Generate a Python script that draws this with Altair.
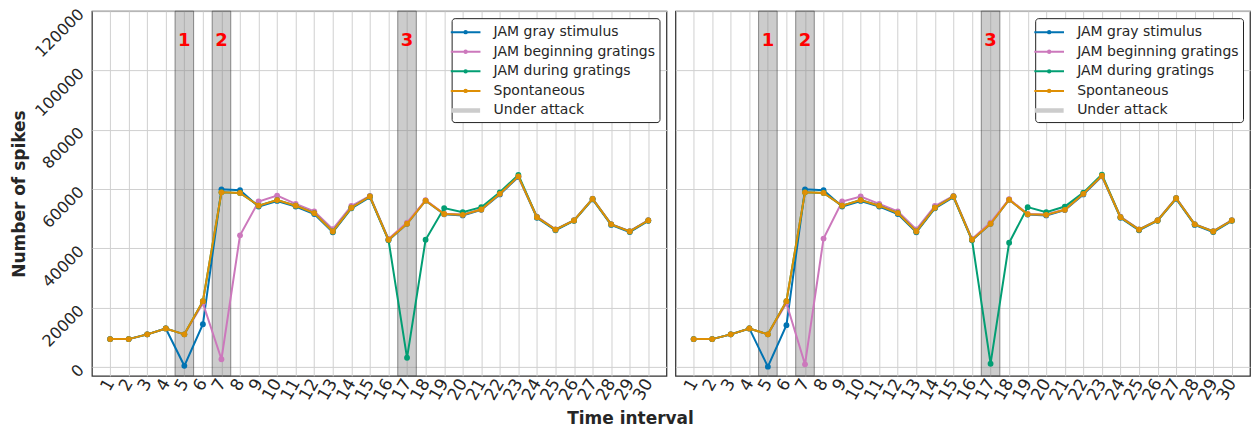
import altair as alt
import pandas as pd

intervals = list(range(1, 31))
series_names = ["JAM gray stimulus", "JAM beginning gratings", "JAM during gratings", "Spontaneous"]
series_colors = ["#0173b2", "#cc78bc", "#029e73", "#de8f05"]
attack_name = "Under attack"
attack_color = "#cccccc"

# left panel
left_gray = [9400, 9400, 11000, 13000, 400, 14400, 59900, 59600, 54100, 56000, 54100, 51600, 45400, 53500, 57300,
             42700, 48300, 56100, 51500, 51100, 53000, 58200, 64100, 50300, 46100, 49300, 56500, 47900, 45500, 49300]
left_begin = [9400, 9400, 11000, 13000, 11000, 21500, 2600, 44400, 55800, 57800, 55000, 52500, 46500, 54300, 57700,
              43200, 48700, 56300, 51700, 51400, 53200, 58500, 64300, 50700, 46400, 49500, 56800, 48200, 45800, 49500]
left_during = [9400, 9400, 11000, 13000, 11000, 22200, 58900, 58700, 54400, 56300, 54400, 51900, 45700, 53700, 57500,
               42900, 3100, 42900, 53600, 52200, 53900, 58900, 64800, 50500, 46300, 49400, 56700, 48100, 45700, 49400]
left_spont = [9400, 9400, 11000, 13000, 11000, 22200, 58900, 58700, 54400, 56300, 54400, 51900, 45700, 53700, 57500,
              42900, 48300, 56100, 51600, 51300, 53100, 58400, 64300, 50500, 46300, 49400, 56700, 48100, 45700, 49400]

# right panel
right_gray = [9400, 9400, 11000, 13000, 100, 14100, 59900, 59600, 54100, 56000, 54100, 51600, 45400, 53500, 57300,
              42700, 48300, 56400, 51400, 51100, 52900, 58200, 64300, 50300, 46100, 49300, 56700, 47900, 45500, 49300]
right_begin = [9400, 9400, 11000, 13000, 11000, 21500, 900, 43300, 55800, 57500, 55000, 52500, 46400, 54300, 57700,
               43200, 48700, 56600, 51600, 51400, 53100, 58500, 64500, 50700, 46400, 49500, 57000, 48200, 45800, 49500]
right_during = [9400, 9400, 11000, 13000, 11000, 22200, 58900, 58700, 54400, 56300, 54400, 51900, 45700, 53700, 57500,
                42900, 1100, 41900, 53900, 52200, 54100, 58800, 64900, 50500, 46300, 49400, 56900, 48100, 45700, 49400]
right_spont = [9400, 9400, 11000, 13000, 11000, 22200, 58900, 58700, 54400, 56300, 54400, 51900, 45700, 53700, 57500,
               42900, 48300, 56400, 51500, 51300, 53000, 58400, 64500, 50500, 46300, 49400, 56900, 48100, 45700, 49400]

attack_start = [4.5, 6.5, 16.5]
attack_end = [5.5, 7.5, 17.5]
attack_center = [5, 7, 17]
attack_labels = ["1", "2", "3"]
attack_label_y = 110000

y_ticks = [0, 20000, 40000, 60000, 80000, 100000, 120000]
y_domain = [-3000, 120000]
x_domain = [0.02, 30.98]

FONT = "DejaVu Sans"
TEXT = "#262626"
GRID = "#d0d0d0"
W, H = 575, 365

attack_df = pd.DataFrame({"start": attack_start, "end": attack_end,
                          "center": attack_center, "label": attack_labels})

# legend glyphs: line with a dot, and a thick bar for the shaded bands
LINE_PATH = "M-1.65,0L1.65,0M0.13,0A0.13,0.13,0,1,1,-0.13,0A0.13,0.13,0,1,1,0.13,0Z"
BAR_PATH = "M-1.5,-0.13L1.5,-0.13L1.5,0.13L-1.5,0.13Z"

legend = alt.Legend(
    title=None, orient="top-right", offset=7,
    labelFont=FONT, labelFontSize=14, labelColor=TEXT, labelLimit=400,
    fillColor="white", strokeColor="#222222", cornerRadius=3, padding=4,
    symbolSize=324, rowPadding=2.6, labelOffset=18,
    symbolStrokeWidth=2, symbolOpacity=1, symbolFillColor="transparent",
)

legend_domain = series_names + [attack_name]
color_scale = alt.Scale(domain=legend_domain, range=series_colors + [attack_color])
shape_scale = alt.Scale(domain=legend_domain, range=[LINE_PATH] * 4 + [BAR_PATH])
x_scale = alt.Scale(domain=x_domain, nice=False, zero=False)
y_scale = alt.Scale(domain=y_domain, nice=False, zero=False)


def make_panel(values, show_y):
    rows = []
    for name, vals in zip(series_names, values):
        for i, v in zip(intervals, vals):
            rows.append({"interval": i, "spikes": v, "series": name})
    df = pd.DataFrame(rows)

    xaxis = alt.Axis(values=intervals, labelAngle=300, labelAlign="right", labelBaseline="middle",
                     labelFontSize=17, labelFont=FONT, labelColor=TEXT, labelPadding=4,
                     labelOverlap=False, labelFlush=False, title=None, ticks=False, domain=False,
                     grid=True, gridColor=GRID, gridWidth=1)
    if show_y:
        yaxis = alt.Axis(values=y_ticks, labelAngle=315, labelAlign="right", labelBaseline="middle",
                         labelFontSize=16, labelFont=FONT, labelColor=TEXT, labelPadding=11,
                         labelOverlap=False, labelFlush=False, ticks=False, domain=False,
                         grid=True, gridColor=GRID, gridWidth=1, format="d",
                         title="Number of spikes", titleFont=FONT, titleFontSize=17, titleFontWeight="bold",
                         titleColor=TEXT, titleX=-72, titleY=H / 2, titleAngle=270, titleBaseline="middle",
                         titleAlign="center")
    else:
        yaxis = alt.Axis(values=y_ticks, labels=False, ticks=False, domain=False, title=None,
                         grid=True, gridColor=GRID, gridWidth=1)
    x = alt.X("interval:Q", scale=x_scale, axis=xaxis)
    y = alt.Y("spikes:Q", scale=y_scale, axis=yaxis)

    bands = alt.Chart(attack_df).mark_rect(
        fill="#808080", fillOpacity=0.4, stroke="#444444", strokeOpacity=0.6, strokeWidth=1
    ).encode(x=alt.X("start:Q", scale=x_scale, axis=xaxis), x2="end:Q",
             y=alt.YDatum(y_domain[0], scale=y_scale, axis=yaxis), y2=alt.Y2Datum(y_domain[1]))

    labels = alt.Chart(attack_df).mark_text(
        color="red", fontWeight="bold", fontSize=18, font=FONT, baseline="middle"
    ).encode(x=alt.X("center:Q", scale=x_scale, axis=xaxis),
             y=alt.YDatum(attack_label_y, scale=y_scale, axis=yaxis), text="label:N")

    layers = [bands]
    for name in series_names:
        layers.append(
            alt.Chart(df).transform_filter(alt.datum.series == name).mark_line(
                strokeWidth=2, point=alt.OverlayMarkDef(filled=True, size=34, opacity=1)
            ).encode(x=x, y=y, color=alt.Color("series:N", scale=color_scale, legend=legend))
        )
    # legend-only layer (draws no marks; provides the legend glyphs)
    layers.append(
        alt.Chart(df).transform_filter("false").mark_point(filled=False, strokeWidth=2, opacity=1).encode(
            x=x, y=y,
            color=alt.Color("series:N", scale=color_scale, legend=legend),
            shape=alt.Shape("series:N", scale=shape_scale, legend=legend),
        )
    )
    layers.append(labels)
    return alt.layer(*layers).properties(width=W, height=H)


left = make_panel([left_gray, left_begin, left_during, left_spont], True)
right = make_panel([right_gray, right_begin, right_during, right_spont], False)

chart = alt.hconcat(left, right, spacing=7).resolve_scale(
    color="independent", shape="independent"
).resolve_legend(
    color="independent", shape="independent"
).properties(
    title=alt.TitleParams("Time interval", orient="bottom", anchor="middle", font=FONT, fontSize=17,
                          fontWeight="bold", color=TEXT, offset=8),
    padding={"left": 10, "top": 4, "right": 2, "bottom": 5},
).configure_view(stroke="#333333", strokeWidth=1.25).configure_axis(grid=True)

chart.save("out.html", embed_options={"renderer": "svg", "actions": False})
